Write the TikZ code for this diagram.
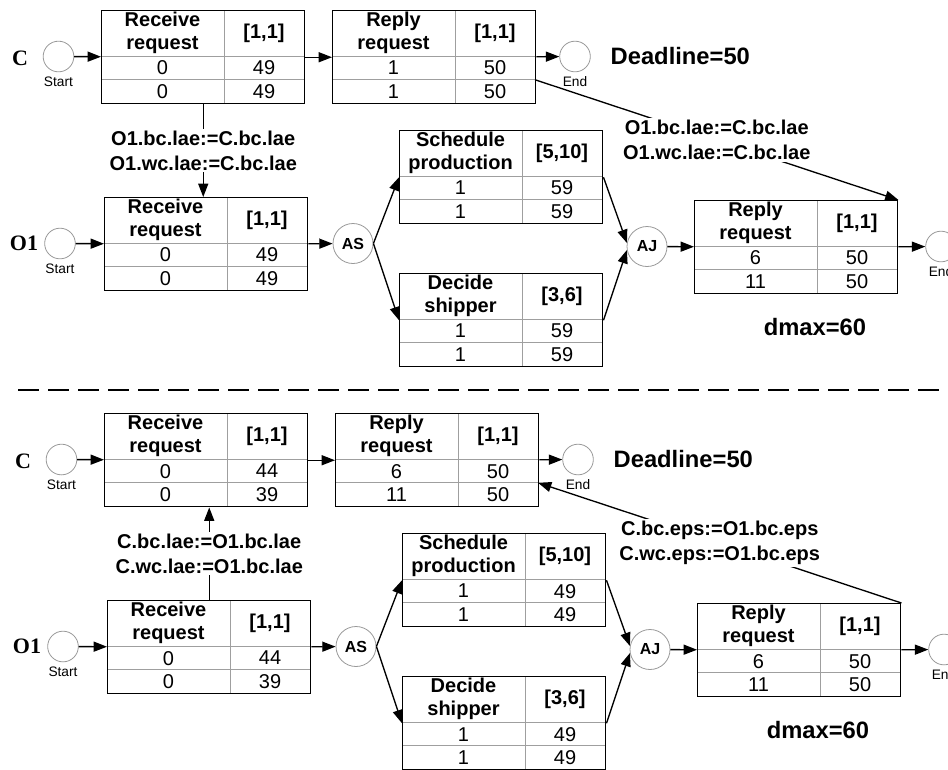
\documentclass[tikz,border=0pt]{standalone}
\usepackage{fontspec}
\setmainfont{Liberation Sans}
\newfontfamily\lanefont{Liberation Serif}
\usetikzlibrary{arrows.meta, calc}

\newcommand{\cellfont}{\fontsize{15}{17.25}\selectfont}

% task table: name, top-left corner, title, time window, then the two value rows
\newcommand{\taskbox}[8]{%
  \begin{scope}[shift={(#2)}]
    \draw[cellrule] (0,46.5) -- (203,46.5) (0,69.75) -- (203,69.75) (123,0) -- (123,93);
    \node[taskframe] (#1) at (0,0) {};
    \node[headtext] at (61.5,23.25) {#3};
    \node[headtext] at (163,23.25) {#4};
    \node[numtext] at (61.5,58.1) {#5};
    \node[numtext] at (163,58.1) {#6};
    \node[numtext] at (61.5,81.4) {#7};
    \node[numtext] at (163,81.4) {#8};
    \coordinate (#1-row) at (203,69.75);
  \end{scope}}

\begin{document}
\begin{tikzpicture}[
  x=0.75pt, y=-0.75pt,
  taskframe/.style={draw=black, line width=1.1pt, minimum width=152.25pt, minimum height=69.75pt, inner sep=0pt, anchor=north west},
  cellrule/.style={draw=gray!75, line width=0.6pt},
  headtext/.style={font=\cellfont\bfseries, align=center, inner sep=0pt},
  numtext/.style={font=\cellfont, inner sep=0pt},
  event/.style={circle, draw=gray!80, line width=0.6pt, minimum size=23pt, inner sep=0pt},
  evlabel/.style={font=\fontsize{10.3}{12}\selectfont},
  gate/.style={circle, draw=gray!80, line width=0.6pt, minimum size=30pt, inner sep=0pt, font=\fontsize{12}{14}\selectfont\bfseries},
  lane/.style={font=\lanefont\fontsize{16.5}{18}\selectfont\bfseries},
  bigtext/.style={font=\fontsize{17.8}{20}\selectfont\bfseries},
  note/.style={fill=white, align=center, inner sep=1.5pt, font=\fontsize{15}{18.5}\selectfont\bfseries},
  flow/.style={-{Triangle[length=10pt,width=7.5pt]}, line width=1pt},
  link/.style={line width=1pt},
  divider/.style={line width=1.8pt, dash pattern=on 15.75pt off 6.75pt}
]
\clip (0,0) rectangle (948,769);

% first run
\node[lane] at (20,58) {C};
\node[event, label={[evlabel]below:Start}] (c-start) at (58.5,56.5) {};
\taskbox{c-recv}{101,10}{Receive\\request}{[1,1]}{0}{49}{0}{49}
\taskbox{c-reply}{332,10}{Reply\\request}{[1,1]}{1}{50}{1}{50}
\node[event, label={[evlabel]below:End}] (c-end) at (575,56.5) {};
\node[bigtext, anchor=west] (c-deadline) at (606,56) {Deadline=50};

\node[lane] at (24,243) {O1};
\node[event, label={[evlabel]below:Start}] (o-start) at (60,243.5) {};
\taskbox{o-recv}{104,197}{Receive\\request}{[1,1]}{0}{49}{0}{49}
\node[gate] (o-as) at (353,243.5) {AS};
\taskbox{o-sched}{399,130}{Schedule\\production}{[5,10]}{1}{59}{1}{59}
\taskbox{o-ship}{399,273}{Decide\\shipper}{[3,6]}{1}{59}{1}{59}
\node[gate] (o-aj) at (647,246.5) {AJ};
\taskbox{o-reply}{694,200}{Reply\\request}{[1,1]}{6}{50}{11}{50}
\node[event, label={[evlabel]below:End}] (o-end) at (941,246.5) {};
\node[bigtext] (o-dmax) at (815,327) {dmax=60};

\draw[flow] (c-start) -- (c-recv);
\draw[flow] (c-recv) -- (c-reply);
\draw[flow] (c-reply) -- (c-end);
\draw[flow] (o-start) -- (o-recv);
\draw[flow] (o-recv) -- (o-as);
\draw[flow] (o-as.east) -- (o-sched.west);
\draw[flow] (o-as.east) -- (o-ship.west);
\draw[flow] (o-sched.east) -- (o-aj.170);
\draw[flow] (o-ship.east) -- (o-aj.190);
\draw[flow] (o-aj) -- (o-reply);
\draw[flow] (o-reply) -- (o-end);
\draw[flow] (c-recv.south) -- node[note]{O1.bc.lae:=C.bc.lae\\O1.wc.lae:=C.bc.lae} (c-recv.south |- o-recv.north);
\draw[flow] (c-reply-row) -- node[note]{O1.bc.lae:=C.bc.lae\\O1.wc.lae:=C.bc.lae} (o-reply.north east);

\draw[divider] (18,390) -- (948,390);

% second run
\begin{scope}[shift={(3,403)}]
\node[lane] at (20,58) {C};
\node[event, label={[evlabel]below:Start}] (c-start2) at (58.5,56.5) {};
\taskbox{c-recv2}{101,10}{Receive\\request}{[1,1]}{0}{44}{0}{39}
\taskbox{c-reply2}{332,10}{Reply\\request}{[1,1]}{6}{50}{11}{50}
\node[event, label={[evlabel]below:End}] (c-end2) at (575,56.5) {};
\node[bigtext, anchor=west] (c-deadline2) at (606,56) {Deadline=50};

\node[lane] at (24,243) {O1};
\node[event, label={[evlabel]below:Start}] (o-start2) at (60,243.5) {};
\taskbox{o-recv2}{104,197}{Receive\\request}{[1,1]}{0}{44}{0}{39}
\node[gate] (o-as2) at (353,243.5) {AS};
\taskbox{o-sched2}{399,130}{Schedule\\production}{[5,10]}{1}{49}{1}{49}
\taskbox{o-ship2}{399,273}{Decide\\shipper}{[3,6]}{1}{49}{1}{49}
\node[gate] (o-aj2) at (647,246.5) {AJ};
\taskbox{o-reply2}{694,200}{Reply\\request}{[1,1]}{6}{50}{11}{50}
\node[event, label={[evlabel]below:End}] (o-end2) at (941,246.5) {};
\node[bigtext] (o-dmax2) at (815,327) {dmax=60};
\end{scope}

\draw[flow] (c-start2) -- (c-recv2);
\draw[flow] (c-recv2) -- (c-reply2);
\draw[flow] (c-reply2) -- (c-end2);
\draw[flow] (o-start2) -- (o-recv2);
\draw[flow] (o-recv2) -- (o-as2);
\draw[flow] (o-as2.east) -- (o-sched2.west);
\draw[flow] (o-as2.east) -- (o-ship2.west);
\draw[flow] (o-sched2.east) -- (o-aj2.170);
\draw[flow] (o-ship2.east) -- (o-aj2.190);
\draw[flow] (o-aj2) -- (o-reply2);
\draw[flow] (o-reply2) -- (o-end2);
\draw[flow] (o-recv2.north) -- node[note]{C.bc.lae:=O1.bc.lae\\C.wc.lae:=O1.bc.lae} (o-recv2.north |- c-recv2.south);
\draw[flow] (o-reply2.north east) -- node[note]{C.bc.eps:=O1.bc.eps\\C.wc.eps:=O1.bc.eps} (c-reply2-row);
\end{tikzpicture}
\end{document}
